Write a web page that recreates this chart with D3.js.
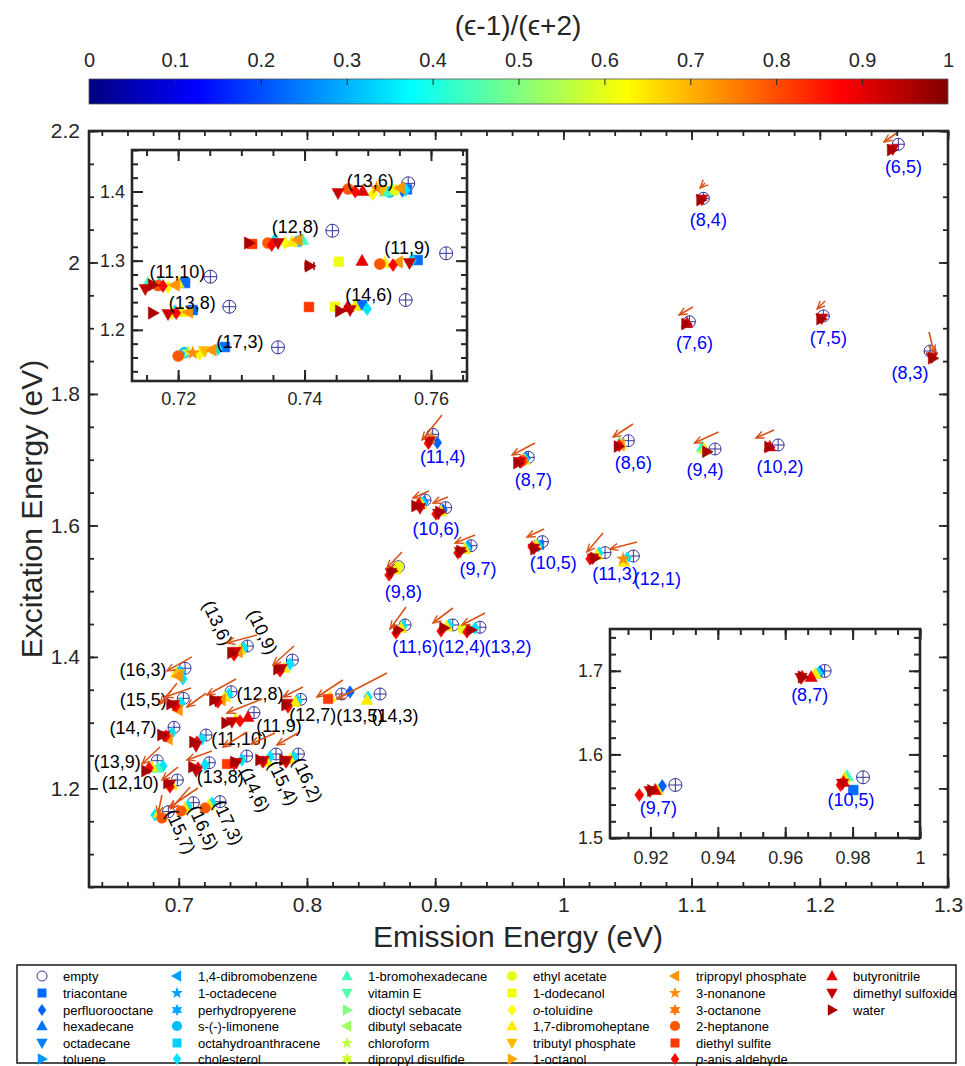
<!DOCTYPE html>
<html>
<head>
<meta charset="utf-8">
<script src="https://cdn.jsdelivr.net/npm/d3@7"></script>
<style>
  body { margin: 0; background: #fff; }
  svg text { font-family: "Liberation Sans", Arial, Helvetica, sans-serif; }
</style>
</head>
<body>
<div id="plot"></div>
<script>
// ---------- data ----------
const colorbarTicks = [0, 0.1, 0.2, 0.3, 0.4, 0.5, 0.6, 0.7, 0.8, 0.9, 1];
const mainXTicks = [0.7, 0.8, 0.9, 1, 1.1, 1.2, 1.3];
const mainYTicks = [1.2, 1.4, 1.6, 1.8, 2, 2.2];
const mainXDomain = [0.63, 1.3];
const mainYDomain = [1.05, 2.2];
const insetAXTicks = [0.72, 0.74, 0.76];
const insetAYTicks = [1.2, 1.3, 1.4];
const insetAXDomain = [0.7127, 0.7657];
const insetAYDomain = [1.126, 1.46];
const insetBXTicks = [0.92, 0.94, 0.96, 0.98, 1];
const insetBYTicks = [1.5, 1.6, 1.7];
const insetBXDomain = [0.908, 1.0];
const insetBYDomain = [1.5, 1.75];

// solvents (index 0 = empty tube)
const solventNames = ["empty", "triacontane", "perfluorooctane", "hexadecane", "octadecane", "toluene",
  "1,4-dibromobenzene", "1-octadecene", "perhydropyerene", "s-(-)-limonene", "octahydroanthracene", "cholesterol",
  "1-bromohexadecane", "vitamin E", "dioctyl sebacate", "dibutyl sebacate", "chloroform", "dipropyl disulfide",
  "ethyl acetate", "1-dodecanol", "o-toluidine", "1,7-dibromoheptane", "tributyl phosphate", "1-octanol",
  "tripropyl phosphate", "3-nonanone", "3-octanone", "2-heptanone", "diethyl sulfite", "p-anis aldehyde",
  "butyronitrile", "dimethyl sulfoxide", "water"];
const solventShapes = ["o", "s", "d", "^", "v", ">", "<", "p", "h", "o", "s", "d", "^", "v", ">", "<", "p",
  "h", "o", "s", "d", "^", "v", ">", "<", "p", "h", "o", "s", "d", "^", "v", ">"];
const solventPolarity = [null, 0.23, 0.22, 0.24, 0.25, 0.27, 0.28, 0.28, 0.29, 0.31, 0.33, 0.35,
  0.44, 0.46, 0.50, 0.53, 0.56, 0.58, 0.60, 0.61, 0.62, 0.645, 0.69, 0.71, 0.73, 0.74, 0.76, 0.79,
  0.82, 0.87, 0.90, 0.93, 0.96];

// main panel: empty-tube peaks (E11 emission, E22 excitation)
const mainChiralities = ["(6,5)", "(8,4)", "(7,6)", "(7,5)", "(8,3)", "(8,6)", "(9,4)", "(10,2)", "(11,4)", "(8,7)",
  "(10,6)", "", "(9,7)", "(9,8)", "(10,5)", "(11,3)", "(12,1)", "(11,6)", "(12,4)", "(13,2)",
  "(13,6)", "(10,9)", "(16,3)", "(12,8)", "(15,5)", "(12,7)", "(13,5)", "(14,3)", "(11,9)", "(14,7)",
  "(11,10)", "(13,9)", "(13,8)", "(14,6)", "(15,4)", "(16,2)", "(12,10)", "(15,7)", "(16,5)", "(17,3)"];
const mainEmptyE11 = [1.2613, 1.1092, 1.0983, 1.2028, 1.2860, 1.0507, 1.1183, 1.1675, 0.8981, 0.9727,
  0.8921, 0.9082, 0.9280, 0.8713, 0.9836, 1.0325, 1.0546, 0.8765, 0.9137, 0.9350,
  0.7535, 0.7886, 0.7049, 0.7408, 0.7036, 0.7951, 0.8271, 0.8570, 0.7587, 0.6963,
  0.7213, 0.6833, 0.7238, 0.7530, 0.7759, 0.7933, 0.6989, 0.6919, 0.7114, 0.7322];
const mainEmptyE22 = [2.1798, 2.0976, 1.9099, 1.9186, 1.8653, 1.7289, 1.7163, 1.7224, 1.7386, 1.7036,
  1.6387, 1.6270, 1.5692, 1.5372, 1.5753, 1.5586, 1.5535, 1.4486, 1.4486, 1.4451,
  1.4166, 1.3953, 1.3827, 1.3471, 1.3370, 1.3355, 1.3436, 1.3436, 1.3152, 1.2929,
  1.2812, 1.2421, 1.2391, 1.2493, 1.2523, 1.2523, 1.2128, 1.1646, 1.1783, 1.1798];
// filled-tube peaks per chirality: [solvent, E11, E22]
const mainFilledPoints = [
  [[31, 1.2570, 2.1725], [32, 1.2561, 2.1711]],
  [[31, 1.1080, 2.0960], [32, 1.1074, 2.0950]],
  [[30, 1.0965, 1.9080], [32, 1.0957, 1.9064]],
  [[31, 1.2015, 1.9150], [32, 1.2010, 1.9140]],
  [[31, 1.2875, 1.8560], [32, 1.2881, 1.8542]],
  [[12, 1.0440, 1.7262], [21, 1.0450, 1.7239], [24, 1.0442, 1.7225], [29, 1.0436, 1.7215], [32, 1.0430, 1.7201]],
  [[12, 1.1082, 1.7193], [21, 1.1100, 1.7160], [32, 1.1119, 1.7122]],
  [[30, 1.1610, 1.7200], [32, 1.1604, 1.7193]],
  [[2, 0.9017, 1.7259], [25, 0.8968, 1.7330], [29, 0.8947, 1.7250], [31, 0.8955, 1.7280]],
  [[2, 0.9709, 1.7026], [11, 0.9700, 1.7010], [21, 0.9693, 1.6995], [27, 0.9680, 1.6985], [29, 0.9670, 1.6965], [31, 0.9660, 1.6965], [32, 0.9646, 1.6950]],
  [[2, 0.8913, 1.6357], [11, 0.8905, 1.6340], [21, 0.8890, 1.6330], [29, 0.8866, 1.6311], [30, 0.8875, 1.6320], [31, 0.8882, 1.6265], [32, 0.8851, 1.6296]],
  [[2, 0.9061, 1.6235], [21, 0.9045, 1.6215], [29, 0.9007, 1.6174], [31, 0.9025, 1.6180], [32, 0.9038, 1.6205]],
  [[2, 0.9256, 1.5672], [11, 0.9245, 1.5660], [21, 0.9233, 1.5642], [29, 0.9178, 1.5581], [31, 0.9195, 1.5600], [32, 0.9202, 1.5611]],
  [[18, 0.8713, 1.5372], [21, 0.8690, 1.5330], [29, 0.8640, 1.5246], [31, 0.8655, 1.5280], [32, 0.8663, 1.5307]],
  [[1, 0.9810, 1.5703], [11, 0.9805, 1.5690], [21, 0.9787, 1.5703], [29, 0.9756, 1.5672], [31, 0.9770, 1.5650], [32, 0.9779, 1.5642]],
  [[11, 1.0278, 1.5581], [21, 1.0262, 1.5550], [29, 1.0208, 1.5490], [31, 1.0230, 1.5500], [32, 1.0247, 1.5505]],
  [[11, 1.0497, 1.5505], [21, 1.0473, 1.5444], [25, 1.0465, 1.5490]],
  [[11, 0.8750, 1.4470], [21, 0.8734, 1.4440], [29, 0.8695, 1.4364], [32, 0.8710, 1.4410]],
  [[11, 0.9108, 1.4486], [21, 0.9090, 1.4460], [29, 0.9046, 1.4394], [32, 0.9069, 1.4440]],
  [[11, 0.9311, 1.4440], [18, 0.9217, 1.4425], [29, 0.9248, 1.4379], [32, 0.9280, 1.4410]],
  [[11, 0.7509, 1.4136], [21, 0.7478, 1.4105], [24, 0.7462, 1.4075], [29, 0.7431, 1.4029], [31, 0.7440, 1.4080], [32, 0.7415, 1.4060]],
  [[11, 0.7868, 1.3892], [21, 0.7821, 1.3831], [29, 0.7790, 1.3786], [31, 0.7800, 1.3820], [32, 0.7774, 1.3816]],
  [[11, 0.7033, 1.3664], [9, 0.7010, 1.3771], [21, 0.6979, 1.3755], [24, 0.6994, 1.3710], [22, 0.7000, 1.3740]],
  [[11, 0.7390, 1.3430], [21, 0.7361, 1.3390], [24, 0.7330, 1.3345], [29, 0.7306, 1.3314], [31, 0.7290, 1.3330], [32, 0.7275, 1.3345]],
  [[11, 0.7018, 1.3299], [24, 0.6994, 1.3192], [29, 0.6979, 1.3253], [31, 0.6960, 1.3270], [32, 0.6940, 1.3284]],
  [[11, 0.7930, 1.3330], [21, 0.7907, 1.3314], [29, 0.7852, 1.3238], [31, 0.7845, 1.3290], [32, 0.7837, 1.3268]],
  [[2, 0.8336, 1.3466], [21, 0.8180, 1.3390], [28, 0.8164, 1.3360]],
  [[11, 0.8476, 1.3390], [21, 0.8468, 1.3345]],
  [[21, 0.7447, 1.3056], [29, 0.7478, 1.3025], [30, 0.7540, 1.3086], [31, 0.7415, 1.3010], [32, 0.7369, 1.2995]],
  [[11, 0.6947, 1.2843], [24, 0.6916, 1.2751], [29, 0.6901, 1.2797], [31, 0.6885, 1.2800], [32, 0.6869, 1.2812]],
  [[11, 0.7181, 1.2751], [29, 0.7142, 1.2706], [31, 0.7135, 1.2645], [32, 0.7119, 1.2706]],
  [[11, 0.6877, 1.2341], [12, 0.6838, 1.2311], [21, 0.6791, 1.2326], [29, 0.6768, 1.2311], [32, 0.6745, 1.2265]],
  [[11, 0.7205, 1.2356], [29, 0.7150, 1.2311], [31, 0.7135, 1.2265], [32, 0.7111, 1.2326]],
  [[11, 0.7493, 1.2432], [28, 0.7376, 1.2371], [29, 0.7431, 1.2371], [31, 0.7450, 1.2390], [32, 0.7439, 1.2402]],
  [[11, 0.7712, 1.2478], [21, 0.7689, 1.2402], [29, 0.7657, 1.2402], [31, 0.7660, 1.2420], [32, 0.7634, 1.2432]],
  [[11, 0.7899, 1.2478], [21, 0.7868, 1.2447], [29, 0.7837, 1.2402], [31, 0.7840, 1.2420], [32, 0.7821, 1.2432]],
  [[21, 0.6947, 1.2052], [29, 0.6932, 1.2021], [31, 0.6930, 1.2060], [32, 0.6916, 1.2082]],
  [[11, 0.6815, 1.1595], [21, 0.6846, 1.1625], [27, 0.6869, 1.1550]],
  [[11, 0.7072, 1.1732], [21, 0.7049, 1.1702], [27, 0.7018, 1.1656]],
  [[11, 0.7259, 1.1778], [21, 0.7236, 1.1747], [27, 0.7205, 1.1702]]
];
// shift arrows: [E11, E22] start and end
const mainArrowFrom = [[1.2611, 2.1985], [1.1105, 2.1209], [1.1011, 1.9323], [1.2041, 1.9414], [1.2852, 1.8942],
  [1.0543, 1.7543], [1.1210, 1.7421], [1.1643, 1.7452], [0.9053, 1.7680], [0.9779, 1.7254],
  [0.8952, 1.6524], [0.9100, 1.6433], [0.9311, 1.5855], [0.8741, 1.5596], [0.9849, 1.5946],
  [1.0309, 1.5885], [1.0575, 1.5748], [0.8773, 1.4759], [0.9139, 1.4744], [0.9389, 1.4668],
  [0.7610, 1.4334], [0.7899, 1.4166], [0.7103, 1.4000], [0.7447, 1.3664], [0.7096, 1.3527],
  [0.7969, 1.3542], [0.8281, 1.3649], [0.8624, 1.3755], [0.7649, 1.3360], [0.6986, 1.3599],
  [0.7213, 1.3447], [0.6854, 1.2630], [0.7259, 1.2569], [0.7532, 1.2858], [0.7751, 1.2843],
  [0.7930, 1.2843], [0.6994, 1.2325], [0.6869, 1.1900], [0.7088, 1.2021], [0.7150, 1.2006]];
const mainArrowTo = [[1.2501, 2.1833], [1.1066, 2.1133], [1.0902, 1.9201], [1.1979, 1.9292], [1.2891, 1.8623],
  [1.0387, 1.7345], [1.1023, 1.7254], [1.1502, 1.7330], [0.8898, 1.7300], [0.9600, 1.7071],
  [0.8827, 1.6418], [0.8983, 1.6341], [0.9155, 1.5733], [0.8624, 1.5353], [0.9717, 1.5824],
  [1.0184, 1.5596], [1.0364, 1.5642], [0.8648, 1.4425], [0.8983, 1.4516], [0.9209, 1.4486],
  [0.7376, 1.4212], [0.7735, 1.3877], [0.6908, 1.3787], [0.7220, 1.3421], [0.6893, 1.3390],
  [0.7813, 1.3390], [0.8078, 1.3390], [0.8234, 1.3359], [0.7376, 1.3147], [0.6854, 1.3284],
  [0.7064, 1.3238], [0.6713, 1.2371], [0.7064, 1.2432], [0.7345, 1.2630], [0.7564, 1.2676],
  [0.7766, 1.2660], [0.6869, 1.2128], [0.6838, 1.1611], [0.6940, 1.1690], [0.6924, 1.1705]];

// top-left inset
const insetAChiralities = ["(13,6)", "(12,8)", "(11,10)", "(11,9)", "(13,8)", "(14,6)", "(17,3)"];
const insetAEmptyE11 = [0.7564, 0.7444, 0.7251, 0.7624, 0.7281, 0.7560, 0.7358];
const insetAEmptyE22 = [1.4118, 1.3433, 1.2768, 1.3106, 1.2334, 1.2431, 1.1747];
const insetAFilledPoints = [
  [[1, 0.7562, 1.4030], [2, 0.7555, 1.4010], [9, 0.7535, 1.3993], [11, 0.7560, 1.4021], [12, 0.7528, 1.4000], [18, 0.7543, 1.4021], [20, 0.7508, 1.3964], [22, 0.7522, 1.4021], [24, 0.7551, 1.4050], [25, 0.7514, 1.4050], [27, 0.7469, 1.4036], [29, 0.7480, 1.4000], [30, 0.7492, 1.4007], [31, 0.7453, 1.3978]],
  [[9, 0.7390, 1.3280], [11, 0.7353, 1.3298], [12, 0.7397, 1.3298], [20, 0.7369, 1.3255], [21, 0.7380, 1.3270], [24, 0.7389, 1.3298], [27, 0.7342, 1.3255], [28, 0.7317, 1.3241], [29, 0.7348, 1.3226], [31, 0.7358, 1.3255], [32, 0.7312, 1.3255]],
  [[1, 0.7211, 1.2677], [11, 0.7170, 1.2660], [12, 0.7152, 1.2677], [20, 0.7184, 1.2619], [21, 0.7200, 1.2677], [24, 0.7195, 1.2648], [27, 0.7168, 1.2640], [29, 0.7176, 1.2633], [31, 0.7148, 1.2590], [32, 0.7160, 1.2648]],
  [[1, 0.7579, 1.3009], [11, 0.7570, 1.3009], [19, 0.7454, 1.2985], [21, 0.7527, 1.2966], [24, 0.7548, 1.2980], [27, 0.7519, 1.2951], [29, 0.7540, 1.2937], [30, 0.7491, 1.2997], [31, 0.7566, 1.2966], [32, 0.7408, 1.2923]],
  [[1, 0.7223, 1.2286], [11, 0.7195, 1.2270], [20, 0.7190, 1.2240], [21, 0.7206, 1.2257], [24, 0.7216, 1.2257], [29, 0.7197, 1.2243], [31, 0.7184, 1.2228], [32, 0.7160, 1.2243]],
  [[1, 0.7491, 1.2359], [11, 0.7499, 1.2301], [19, 0.7448, 1.2334], [21, 0.7480, 1.2344], [28, 0.7407, 1.2330], [30, 0.7468, 1.2330], [31, 0.7472, 1.2286], [32, 0.7456, 1.2272]],
  [[1, 0.7274, 1.1751], [9, 0.7210, 1.1670], [11, 0.7263, 1.1722], [16, 0.7216, 1.1679], [20, 0.7234, 1.1650], [22, 0.7242, 1.1693], [24, 0.7253, 1.1708], [25, 0.7223, 1.1664], [27, 0.7200, 1.1621]]
];
// water (11,9) point with horizontal error bar: [E11, E22, half width]
const insetAErrorBar = [0.7408, 1.2923, 0.0007];

// bottom-right inset
const insetBChiralities = ["(8,7)", "(9,7)", "(10,5)"];
const insetBEmptyE11 = [0.9717, 0.9274, 0.9831];
const insetBEmptyE22 = [1.6998, 1.5634, 1.5726];
const insetBFilledPoints = [
  [[2, 0.9704, 1.6986], [11, 0.9698, 1.6974], [21, 0.9689, 1.6962], [29, 0.9650, 1.6930], [30, 0.9677, 1.6926], [31, 0.9647, 1.6915], [32, 0.9652, 1.6926]],
  [[2, 0.9235, 1.5622], [21, 0.9220, 1.5574], [29, 0.9167, 1.5514], [30, 0.9214, 1.5574], [31, 0.9199, 1.5562], [32, 0.9205, 1.5568]],
  [[1, 0.9802, 1.5574], [12, 0.9784, 1.5742], [21, 0.9776, 1.5718], [29, 0.9764, 1.5634], [30, 0.9773, 1.5670], [31, 0.9770, 1.5650]]
];

// ---------- layout (pixel offsets of chirality labels: dx, dy, rotation, blue) ----------
const mainLabelLayout = [[5, 23, 0, 1], [5, 22, 0, 1], [5, 21, 0, 1], [5, 22, 0, 1], [-20, 22, 0, 1],
  [5, 22, 0, 1], [-10, 21, 0, 1], [2, 22, 0, 1], [10, 23, 0, 1], [5, 23, 0, 1],
  [11, 29, 0, 1], [0, 0, 0, 1], [7, 23, 0, 1], [5, 25, 0, 1], [11, 21, 0, 1],
  [10, 21, 0, 1], [24, 23, 0, 1], [10, 22, 0, 1], [9, 22, 0, 1], [28, 20, 0, 1],
  [-30, -23, 65, 0], [-30, -28, 65, 0], [-42, 2, 0, 0], [29, 2, 0, 0], [-40, 2, 0, 0],
  [12, 16, 0, 0], [18, 22, 0, 0], [15, 22, 0, 0], [25, 13, 0, 0], [-41, 1, 0, 0],
  [33, 4, 0, 0], [-40, 1, 0, 0], [11, 14, 0, 0], [8, 34, 65, 0], [7, 29, 65, 0],
  [9, 26, 65, 0], [-47, 3, 0, 0], [12, 20, 65, 0], [10, 25, 65, 0], [8, 21, 65, 0]];
const insetALabelLayout = [[-38, -2], [-37, -4], [-33, -5], [-39, -5], [-37, -4], [-37, -5], [-38, -5]];
const insetBLabelLayout = [[-15, 24], [-17, 23], [-12, 23]];
const legendColX = [42, 177, 347, 512, 675, 832];
const legendRowY = [976, 993, 1010, 1026, 1043, 1059];

const INK = "#262626", EMPTY = "#333399", ARROW = "#D95319";

// ---------- helpers ----------
function jet(v) {
  const f = t => Math.max(0, Math.min(1, t));
  return d3.rgb(255 * f(1.5 - Math.abs(4 * v - 3)), 255 * f(1.5 - Math.abs(4 * v - 2)),
    255 * f(1.5 - Math.abs(4 * v - 1))).toString();
}

function symbolPath(shape, r) {
  const poly = pts => "M" + pts.map(p => p[0].toFixed(2) + "," + p[1].toFixed(2)).join("L") + "Z";
  const star = (n, ro, ri) => poly(d3.range(2 * n).map(i => {
    const a = -Math.PI / 2 + i * Math.PI / n, rr = i % 2 ? ri : ro;
    return [rr * Math.cos(a), rr * Math.sin(a)];
  }));
  switch (shape) {
    case "o": { const c = 0.85 * r; return `M${c},0A${c},${c} 0 1,1 ${-c},0A${c},${c} 0 1,1 ${c},0Z`; }
    case "s": { const s = 0.75 * r; return poly([[-s, -s], [s, -s], [s, s], [-s, s]]); }
    case "d": return poly([[0, -r], [0.7 * r, 0], [0, r], [-0.7 * r, 0]]);
    case "^": return poly([[0, -r], [0.95 * r, 0.7 * r], [-0.95 * r, 0.7 * r]]);
    case "v": return poly([[0, r], [0.95 * r, -0.7 * r], [-0.95 * r, -0.7 * r]]);
    case ">": return poly([[r, 0], [-0.7 * r, -0.95 * r], [-0.7 * r, 0.95 * r]]);
    case "<": return poly([[-r, 0], [0.7 * r, -0.95 * r], [0.7 * r, 0.95 * r]]);
    case "p": return star(5, 1.05 * r, 0.42 * r);
    case "h": return star(6, r, 0.55 * r);
  }
}

function boxAxes(g, x, y, o) {
  const [left, right] = x.range();
  const [bottom, top] = y.range();
  const sides = [
    [d3.axisBottom, x, `translate(0,${bottom})`, o.xMajor, o.xMinor, true],
    [d3.axisTop, x, `translate(0,${top})`, o.xMajor, o.xMinor, false],
    [d3.axisLeft, y, `translate(${left},0)`, o.yMajor, o.yMinor, true],
    [d3.axisRight, y, `translate(${right},0)`, o.yMajor, o.yMinor, false]
  ];
  sides.forEach(([axisFn, sc, tr, major, minor, labelled], i) => {
    g.append("g").attr("transform", tr)
      .call(axisFn(sc).tickValues(minor).tickSize(-o.minorLen).tickFormat(""))
      .call(a => a.select(".domain").remove());
    const ax = g.append("g").attr("transform", tr)
      .call(axisFn(sc).tickValues(major).tickSize(-o.majorLen)
        .tickPadding(labelled ? (i === 0 ? o.xPad : o.yPad) : 0)
        .tickFormat(labelled ? d3.format("~g") : ""))
      .call(a => a.select(".domain").remove());
    ax.selectAll("text").attr("font-size", o.font).attr("fill", INK)
      .style("font-family", '"Liberation Sans", Arial, sans-serif');
  });
  g.selectAll(".tick line").attr("stroke", INK).attr("stroke-width", o.tickW);
  g.append("rect").attr("x", left).attr("y", top).attr("width", right - left).attr("height", bottom - top)
    .attr("fill", "none").attr("stroke", INK).attr("stroke-width", o.frameW);
}

function drawEmpty(g, cx, cy, r) {
  g.append("circle").attr("cx", cx).attr("cy", cy).attr("r", r)
    .attr("fill", "none").attr("stroke", EMPTY).attr("stroke-width", 1);
  g.append("path").attr("d", `M${cx - r},${cy}H${cx + r}M${cx},${cy - r}V${cy + r}`)
    .attr("stroke", EMPTY).attr("stroke-width", 1);
}

function drawSet(g, x, y, names, e11, e22, points, r, re) {
  names.forEach((n, i) => drawEmpty(g, x(e11[i]), y(e22[i]), re));
  names.forEach((n, i) => {
    points[i].slice().sort((a, b) => a[0] - b[0]).forEach(p => {
      g.append("path").attr("d", symbolPath(solventShapes[p[0]], r))
        .attr("transform", `translate(${x(p[1])},${y(p[2])})`)
        .attr("fill", jet(solventPolarity[p[0]])).attr("stroke", jet(solventPolarity[p[0]]))
        .attr("stroke-width", 0.5);
    });
  });
}

// ---------- svg ----------
const W = 965, H = 1066;
const svg = d3.select("#plot").append("svg").attr("width", W).attr("height", H);
svg.append("rect").attr("width", W).attr("height", H).attr("fill", "#fff");
const defs = svg.append("defs");

// colorbar
const cbX = d3.scaleLinear().domain([0, 1]).range([89, 948]);
const grad = defs.append("linearGradient").attr("id", "jet");
d3.range(0, 1.0001, 0.0625).forEach(v => grad.append("stop").attr("offset", v).attr("stop-color", jet(v)));
svg.append("rect").attr("x", 89).attr("y", 79).attr("width", 859).attr("height", 25)
  .attr("fill", "url(#jet)").attr("stroke", "#555").attr("stroke-width", 0.8);
const cbAxis = svg.append("g").attr("transform", "translate(0,79)")
  .call(d3.axisTop(cbX).tickValues(colorbarTicks).tickSize(-6).tickPadding(12).tickFormat(d3.format("~g")))
  .call(a => a.select(".domain").remove());
cbAxis.selectAll("text").attr("font-size", 20).attr("fill", INK)
  .style("font-family", '"Liberation Sans", Arial, sans-serif');
cbAxis.selectAll(".tick line").attr("stroke", INK).attr("stroke-width", 1)
  .filter(d => d === 0 || d === 1).remove();
svg.append("text").attr("x", 518).attr("y", 25).attr("text-anchor", "middle")
  .attr("dominant-baseline", "central").attr("font-size", 28).attr("fill", INK)
  .text("(\u03f5-1)/(\u03f5+2)");

// main panel
const x = d3.scaleLinear().domain(mainXDomain).range([89, 948]);
const y = d3.scaleLinear().domain(mainYDomain).range([887, 131]);
const main = svg.append("g");
drawSet(main, x, y, mainChiralities, mainEmptyE11, mainEmptyE22, mainFilledPoints, 6.3, 6);
mainChiralities.forEach((n, i) => {
  if (!n) return;
  const [dx, dy, rot, blue] = mainLabelLayout[i];
  const cx = x(mainEmptyE11[i]) + dx, cy = y(mainEmptyE22[i]) + dy;
  main.append("text").attr("x", cx).attr("y", cy).attr("text-anchor", "middle")
    .attr("dominant-baseline", "central").attr("font-size", 18)
    .attr("fill", blue ? "#0000ff" : "#000")
    .attr("transform", rot ? `rotate(${rot},${cx},${cy})` : null).text(n);
});
defs.append("marker").attr("id", "ah").attr("viewBox", "-10 -6 12 12").attr("refX", 0).attr("refY", 0)
  .attr("markerWidth", 12).attr("markerHeight", 12).attr("markerUnits", "userSpaceOnUse").attr("orient", "auto")
  .append("path").attr("d", "M-8,-3.5L0,0L-8,3.5").attr("fill", "none").attr("stroke", ARROW).attr("stroke-width", 1.4);
mainArrowFrom.forEach((f, i) => {
  const t = mainArrowTo[i];
  main.append("line").attr("x1", x(f[0])).attr("y1", y(f[1])).attr("x2", x(t[0])).attr("y2", y(t[1]))
    .attr("stroke", ARROW).attr("stroke-width", 1.6).attr("marker-end", "url(#ah)");
});
boxAxes(main, x, y, {
  xMajor: mainXTicks, xMinor: d3.range(0.64, 1.3001, 0.02),
  yMajor: mainYTicks, yMinor: d3.range(1.05, 2.2001, 0.05),
  majorLen: 9, minorLen: 5, tickW: 1.8, frameW: 2.6, font: 21, xPad: 10, yPad: 9
});
svg.append("text").attr("x", 518).attr("y", 936).attr("text-anchor", "middle")
  .attr("dominant-baseline", "central").attr("font-size", 30).attr("fill", INK).text("Emission Energy (eV)");
svg.append("text").attr("transform", "translate(31,509) rotate(-90)").attr("text-anchor", "middle")
  .attr("dominant-baseline", "central").attr("font-size", 30).attr("fill", INK).text("Excitation Energy (eV)");

// top-left inset
const xa = d3.scaleLinear().domain(insetAXDomain).range([132, 467]);
const ya = d3.scaleLinear().domain(insetAYDomain).range([381, 150]);
const insA = svg.append("g");
insA.append("rect").attr("x", 132).attr("y", 150).attr("width", 335).attr("height", 231).attr("fill", "#fff");
drawSet(insA, xa, ya, insetAChiralities, insetAEmptyE11, insetAEmptyE22, insetAFilledPoints, 6.5, 6.5);
{
  const [ex, ey, hw] = insetAErrorBar, py = ya(ey);
  insA.append("path")
    .attr("d", `M${xa(ex - hw)},${py}H${xa(ex + hw)}M${xa(ex - hw)},${py - 4}V${py + 4}M${xa(ex + hw)},${py - 4}V${py + 4}`)
    .attr("stroke", jet(solventPolarity[32])).attr("stroke-width", 1.5);
}
insetAChiralities.forEach((n, i) => {
  const [dx, dy] = insetALabelLayout[i];
  insA.append("text").attr("x", xa(insetAEmptyE11[i]) + dx).attr("y", ya(insetAEmptyE22[i]) + dy)
    .attr("text-anchor", "middle").attr("dominant-baseline", "central").attr("font-size", 18)
    .attr("fill", "#000").text(n);
});
boxAxes(insA, xa, ya, {
  xMajor: insetAXTicks, xMinor: d3.range(0.715, 0.7657, 0.005),
  yMajor: insetAYTicks, yMinor: d3.range(1.14, 1.46, 0.02),
  majorLen: 11, minorLen: 6, tickW: 2, frameW: 2.6, font: 18, xPad: 11, yPad: 7
});

// bottom-right inset
const xb = d3.scaleLinear().domain(insetBXDomain).range([610, 920]);
const yb = d3.scaleLinear().domain(insetBYDomain).range([838, 629]);
const insB = svg.append("g");
insB.append("rect").attr("x", 610).attr("y", 629).attr("width", 310).attr("height", 209).attr("fill", "#fff");
drawSet(insB, xb, yb, insetBChiralities, insetBEmptyE11, insetBEmptyE22, insetBFilledPoints, 6.5, 6.5);
insetBChiralities.forEach((n, i) => {
  const [dx, dy] = insetBLabelLayout[i];
  insB.append("text").attr("x", xb(insetBEmptyE11[i]) + dx).attr("y", yb(insetBEmptyE22[i]) + dy)
    .attr("text-anchor", "middle").attr("dominant-baseline", "central").attr("font-size", 18)
    .attr("fill", "#0000ff").text(n);
});
boxAxes(insB, xb, yb, {
  xMajor: insetBXTicks, xMinor: d3.range(0.92 - 0.02 / 3, 1.0001, 0.02 / 3),
  yMajor: insetBYTicks, yMinor: d3.range(1.5, 1.7501, 0.02),
  majorLen: 11, minorLen: 6, tickW: 2, frameW: 2.6, font: 18, xPad: 13, yPad: 7
});

// legend
const legend = svg.append("g");
legend.append("rect").attr("x", 17).attr("y", 965).attr("width", 939).attr("height", 98)
  .attr("fill", "#fff").attr("stroke", INK).attr("stroke-width", 1.6);
solventNames.forEach((name, i) => {
  const lx = legendColX[Math.floor(i / 6)], ly = legendRowY[i % 6];
  if (i === 0) {
    legend.append("circle").attr("cx", lx).attr("cy", ly).attr("r", 5)
      .attr("fill", "none").attr("stroke", EMPTY).attr("stroke-width", 1);
  } else {
    legend.append("path").attr("d", symbolPath(solventShapes[i], 6)).attr("transform", `translate(${lx},${ly})`)
      .attr("fill", jet(solventPolarity[i]));
  }
  const t = legend.append("text").attr("x", lx + 21).attr("y", ly).attr("dominant-baseline", "central")
    .attr("font-size", 13).attr("fill", "#000");
  if (name.startsWith("o-") || name.startsWith("p-")) {
    t.append("tspan").attr("font-style", "italic").text(name[0]);
    t.append("tspan").text(name.slice(1));
  } else t.text(name);
});
</script>
</body>
</html>
